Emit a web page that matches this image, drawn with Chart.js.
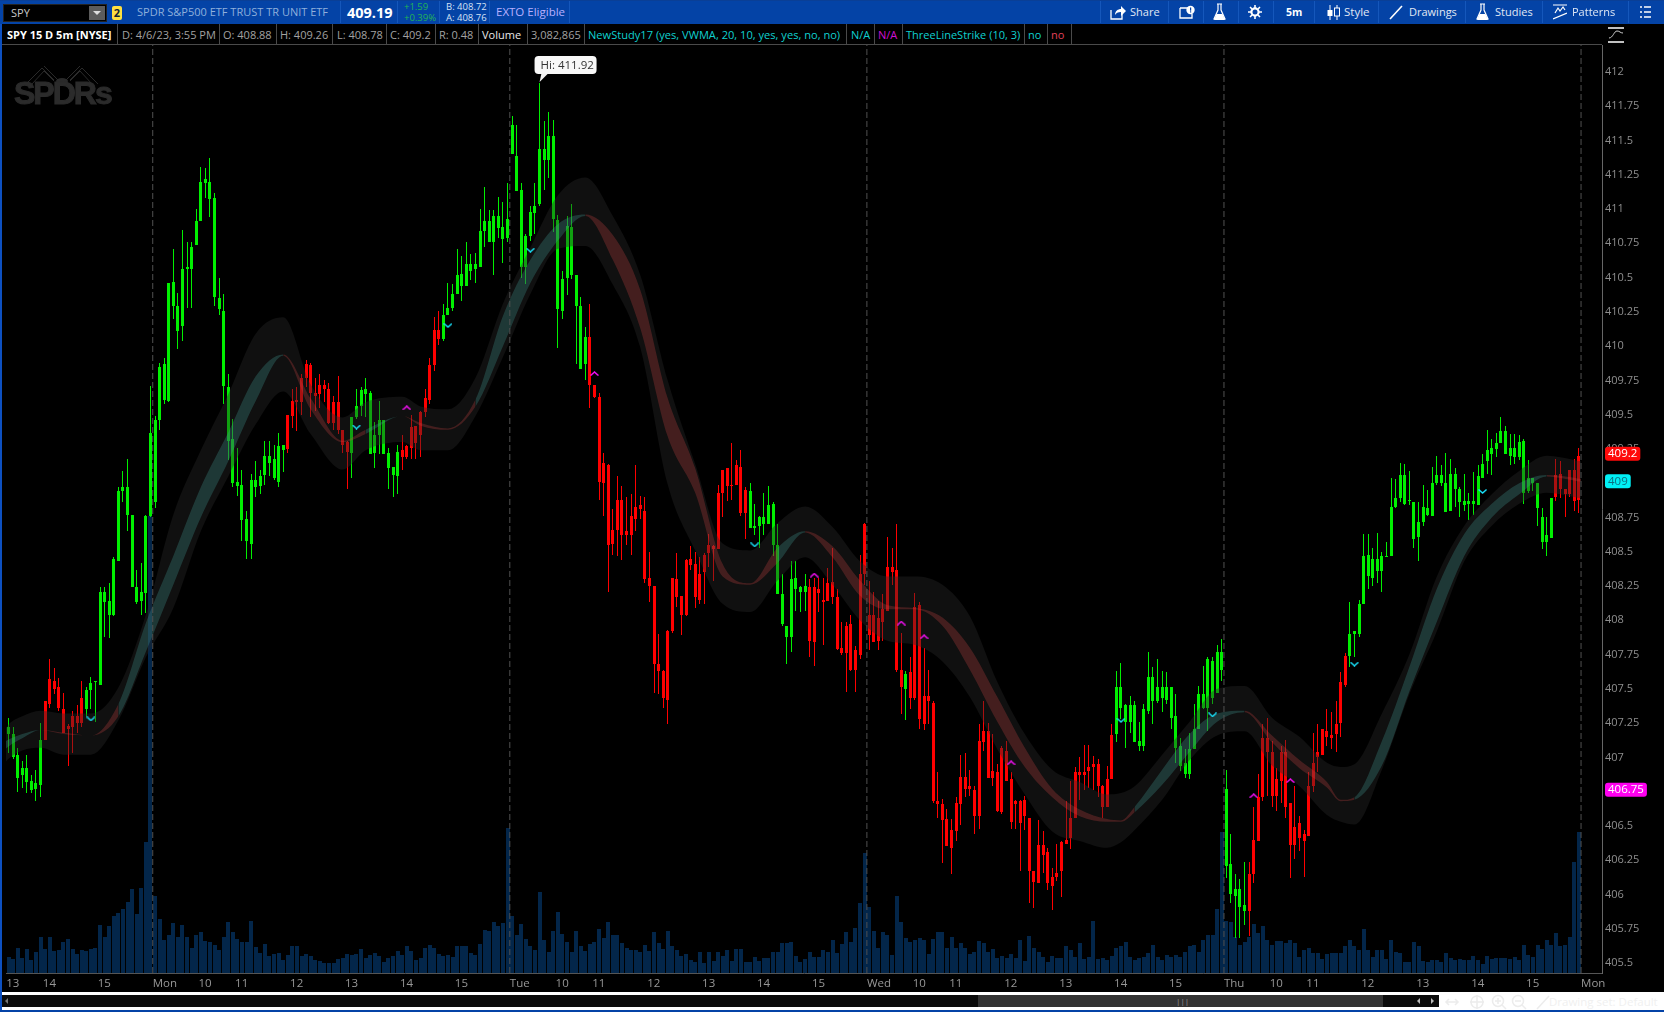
<!DOCTYPE html>
<html>
<head>
<meta charset="utf-8">
<title>SPY 15 D 5m</title>
<script src="https://cdn.jsdelivr.net/npm/chart.js@4/dist/chart.umd.min.js"></script>
<style>
html,body{margin:0;padding:0;background:#000;overflow:hidden}
body{width:1664px;height:1012px;position:relative;font-family:"Open Sans",sans-serif;font-size:11px}
canvas{position:absolute;left:0;top:0}
.abs,.t,.c,.b,.s{position:absolute;white-space:nowrap}
#topbar{position:absolute;left:0;top:0;width:1664px;height:24px;background:#0443a6;border-top:1px solid #0a3f96;box-sizing:border-box}
#row2{position:absolute;left:0;top:24px;width:1602px;height:20px;background:#000;border-bottom:1px solid #4a4a4a}
.t{top:4px;line-height:16px;color:#bcd0ee;font-size:11px}
.c{top:27px;line-height:16px;color:#a2a2a2;font-size:11px}
.b{top:24px;width:1px;height:20px;background:#4a4a4a}
.s{top:1px;width:1px;height:22px;background:#1557bb}
svg{position:absolute}
</style>
</head>
<body>
<canvas id="chart" width="1664" height="1012"></canvas>

<div id="topbar"></div>
<div id="row2"></div>
<div class="abs" style="left:0;top:24px;width:2px;height:988px;background:#0d50c0"></div>

<!-- top toolbar -->
<div class="abs" style="left:3px;top:4px;width:104px;height:18px;background:#000;border:1px solid #222;box-sizing:border-box"></div>
<div class="t" style="left:11px;top:5px;color:#c8c8c8">SPY</div>
<div class="abs" style="left:89px;top:6px;width:16px;height:14px;background:#5c5c5c"></div>
<div class="abs" style="left:93px;top:11px;border-left:4px solid transparent;border-right:4px solid transparent;border-top:4px solid #ddd"></div>
<div class="abs" style="left:112px;top:6px;width:10px;height:14px;background:#ffe040;border-radius:2px;color:#123;font-weight:700;font-size:11px;line-height:14px;text-align:center">2</div>
<div class="t" style="left:137px;top:4px;color:#8fb0dc;font-size:11px">SPDR S&amp;P500 ETF TRUST TR UNIT ETF</div>
<div class="s" style="left:340px"></div>
<div class="t" style="left:347px;top:3px;color:#fff;font-size:14.5px;font-weight:700;line-height:19px">409.19</div>
<div class="s" style="left:397px"></div>
<div class="t" style="left:404px;top:1px;color:#22b455;font-size:9.5px;line-height:11px">+1.59<br>+0.39%</div>
<div class="s" style="left:439px"></div>
<div class="t" style="left:446px;top:1px;color:#d5e2f5;font-size:9.5px;line-height:11px">B: 408.72<br>A: 408.76</div>
<div class="s" style="left:489px"></div>
<div class="t" style="left:496px;top:4px;color:#b9b0ff;font-size:11.5px">EXTO Eligible</div>
<div class="s" style="left:569px"></div>
<div class="s" style="left:1100px"></div>

<svg style="left:1110px;top:5px" width="16" height="15" viewBox="0 0 16 15"><path d="M1 5v9h11V9" fill="none" stroke="#fff" stroke-width="1.3"/><path d="M5 10c0-4 3-6 6-6V1l5 5-5 5V7c-3 0-5 1-6 3z" fill="#fff"/></svg>
<div class="t" style="left:1130px;color:#e0e8f5;font-size:11px">Share</div>
<div class="s" style="left:1168px"></div>
<svg style="left:1179px;top:5px" width="16" height="14" viewBox="0 0 16 14"><path d="M1 3h9M1 3v10h12V9" fill="none" stroke="#fff" stroke-width="1.3"/><circle cx="11.5" cy="5" r="4.2" fill="#fff"/><rect x="11" y="2.5" width="1.2" height="3.2" fill="#0443a6"/><rect x="11" y="6.3" width="1.2" height="1.2" fill="#0443a6"/></svg>
<div class="s" style="left:1203px"></div>
<svg style="left:1213px;top:3px" width="13" height="18" viewBox="0 0 13 18"><path d="M4 1h5M5 1v6L1 16h11L8 7V1" fill="none" stroke="#fff" stroke-width="1.2"/><path d="M3.5 11h6L12 17H1z" fill="#fff"/></svg>
<div class="s" style="left:1238px"></div>
<svg style="left:1248px;top:5px" width="14" height="14" viewBox="0 0 14 14"><circle cx="7" cy="7" r="3.6" fill="none" stroke="#fff" stroke-width="2.2"/><path d="M7 0v3M7 11v3M0 7h3M11 7h3M2 2l2 2M10 10l2 2M12 2l-2 2M4 10l-2 2" stroke="#fff" stroke-width="1.6"/></svg>
<div class="s" style="left:1273px"></div>
<div class="t" style="left:1286px;color:#fff;font-weight:700;font-size:10.5px">5m</div>
<div class="s" style="left:1314px"></div>
<svg style="left:1326px;top:5px" width="15" height="15" viewBox="0 0 15 15"><path d="M4 0v15M11 0v15" stroke="#fff"/><rect x="1.5" y="5" width="5" height="6" fill="#fff"/><rect x="8.5" y="3" width="5" height="8" fill="#0443a6" stroke="#fff"/></svg>
<div class="t" style="left:1344px;color:#e0e8f5;font-size:11.5px">Style</div>
<div class="s" style="left:1378px"></div>
<svg style="left:1389px;top:5px" width="14" height="15" viewBox="0 0 14 15"><path d="M1 14L13 1" stroke="#fff" stroke-width="1.6"/></svg>
<div class="t" style="left:1409px;color:#e0e8f5;font-size:11px">Drawings</div>
<div class="s" style="left:1465px"></div>
<svg style="left:1476px;top:3px" width="13" height="18" viewBox="0 0 13 18"><path d="M4 1h5M5 1v6L1 16h11L8 7V1" fill="none" stroke="#fff" stroke-width="1.2"/><path d="M3.5 11h6L12 17H1z" fill="#fff"/></svg>
<div class="t" style="left:1495px;color:#e0e8f5;font-size:11px">Studies</div>
<div class="s" style="left:1542px"></div>
<svg style="left:1553px;top:4px" width="14" height="16" viewBox="0 0 14 16"><path d="M0 1h14M0 15L14 9M2 9l3-5 2 3 3-4 2 3" fill="none" stroke="#fff" stroke-width="1.2"/></svg>
<div class="t" style="left:1572px;color:#e0e8f5;font-size:11px">Patterns</div>
<div class="s" style="left:1628px"></div>
<svg style="left:1640px;top:6px" width="11" height="12" viewBox="0 0 11 12"><path d="M0 1h2M4 1h7M0 6h2M4 6h7M0 11h2M4 11h7" stroke="#fff" stroke-width="1.4"/></svg>

<!-- study row -->
<div class="c" style="left:7px;color:#fff;font-weight:700">SPY 15 D 5m [NYSE]</div><div class="b" style="left:117px"></div>
<div class="c" style="left:122px">D: 4/6/23, 3:55 PM</div><div class="b" style="left:219px"></div>
<div class="c" style="left:223px">O: 408.88</div><div class="b" style="left:276px"></div>
<div class="c" style="left:280px">H: 409.26</div><div class="b" style="left:332px"></div>
<div class="c" style="left:337px">L: 408.78</div><div class="b" style="left:386px"></div>
<div class="c" style="left:390px">C: 409.2</div><div class="b" style="left:435px"></div>
<div class="c" style="left:439px">R: 0.48</div><div class="b" style="left:478px"></div>
<div class="c" style="left:482px;color:#e8e8e8">Volume</div><div class="b" style="left:527px"></div>
<div class="c" style="left:531px">3,082,865</div><div class="b" style="left:584px"></div>
<div class="c" style="left:588px;color:#0fd0d0;font-size:11.1px">NewStudy17 (yes, VWMA, 20, 10, yes, yes, no, no)</div><div class="b" style="left:846px"></div>
<div class="c" style="left:851px;color:#0fd0d0">N/A</div><div class="b" style="left:874px"></div>
<div class="c" style="left:878px;color:#d010d0">N/A</div><div class="b" style="left:902px"></div>
<div class="c" style="left:906px;color:#0fd0d0">ThreeLineStrike (10, 3)</div><div class="b" style="left:1024px"></div>
<div class="c" style="left:1028px;color:#0fd0d0">no</div><div class="b" style="left:1047px"></div>
<div class="c" style="left:1051px;color:#e0405a">no</div><div class="b" style="left:1071px"></div>

<svg style="left:1608px;top:27px" width="16" height="16" viewBox="0 0 16 16"><path d="M0 1h16M0 15h16" stroke="#fff" stroke-width="1.6"/><path d="M1 11c4 0 5-7 8-7s3 2 6 2" fill="none" stroke="#ccc"/></svg>

<!-- SPDRs watermark -->
<svg style="left:20px;top:62px" width="84" height="24" viewBox="0 0 84 24"><path d="M6 22L22 6l12 12M12 22L24 9l10 10M78 22L62 6 50 18M72 22L60 9 50 19M24 4l14 14M60 4L46 18" fill="none" stroke="#2a2a2a" stroke-width="1"/><ellipse cx="42" cy="19" rx="6" ry="3" fill="#2a2a2a"/></svg>
<div class="abs" style="left:14px;top:77px;font-family:'Liberation Sans',sans-serif;font-weight:700;font-size:32px;line-height:32px;letter-spacing:-2px;color:#2b2b2b;-webkit-text-stroke:1px #2b2b2b">SPDRs</div>

<!-- bottom scroller -->
<div class="abs" style="left:2px;top:992px;width:1662px;height:19px;background:#fff"></div>
<div class="abs" style="left:2px;top:995px;width:1437px;height:12px;background:#0b0b0b"></div>
<div class="abs" style="left:978px;top:995px;width:405px;height:12px;background:#333"></div>
<div class="abs" style="left:1176px;top:996px;color:#999;font-size:8px;line-height:10px">|||</div>
<div class="abs" style="left:5px;top:998px;border-top:3px solid transparent;border-bottom:3px solid transparent;border-right:3px solid #777"></div>
<div class="abs" style="left:1417px;top:998px;border-top:3px solid transparent;border-bottom:3px solid transparent;border-right:3px solid #bbb"></div>
<div class="abs" style="left:1431px;top:998px;border-top:3px solid transparent;border-bottom:3px solid transparent;border-left:3px solid #bbb"></div>
<svg style="left:1444px;top:994px" width="110" height="16" viewBox="0 0 110 16"><g fill="none" stroke="#ececec" stroke-width="1.5"><path d="M2 8h12M5 5l-3 3 3 3M11 5l3 3-3 3"/><circle cx="33" cy="8" r="6"/><path d="M33 1v14M26 8h14"/><circle cx="54" cy="7" r="5.5"/><path d="M58 11l4 4M51 7h6M54 4v6"/><circle cx="74" cy="7" r="5.5"/><path d="M78 11l4 4M71 7h6"/><path d="M93 15L105 2"/></g></svg>
<div class="abs" style="left:1549px;top:994px;color:#f0f0f0;font-size:11.5px;line-height:16px">Drawing set: Default</div>
<div class="abs" style="left:0;top:1010px;width:1664px;height:2px;background:#0443a6"></div>

<script>
// candles, one entry per 5 minute bar
const highs = [
  407.29,407.22,407.07,406.97,407.02,406.87,406.91,407.25,407.41,407.72,
  407.65,407.58,407.47,407.24,407.34,407.38,407.56,407.51,407.59,407.56,
  408.24,408.24,408.27,408.46,408.97,409.09,409.18,408.77,408.37,408.42,
  408.77,409.71,409.49,409.88,409.91,410.46,410.71,410.39,410.85,410.76,
  410.76,411.00,411.31,411.30,411.37,411.12,410.50,410.38,409.80,409.47,
  409.26,409.10,408.80,409.07,409.16,409.10,409.31,409.31,409.28,409.37,
  409.28,409.50,409.69,409.70,409.80,409.90,409.88,409.77,409.80,409.75,
  409.73,409.64,409.78,409.39,409.31,409.48,409.69,409.70,409.77,409.67,
  409.45,409.60,409.46,409.26,409.12,409.28,409.35,409.28,409.50,409.42,
  409.53,409.69,409.91,410.21,410.26,410.31,410.46,410.45,410.71,410.66,
  410.76,410.67,410.68,411.00,411.16,410.99,410.99,411.09,411.05,411.19,
  411.68,411.61,411.19,410.82,411.02,411.19,411.92,411.64,411.71,411.65,
  410.96,410.55,410.95,411.04,410.52,410.36,410.14,410.31,409.72,409.66,
  409.22,409.14,408.81,409.05,408.98,408.90,408.92,409.13,408.91,408.90,
  408.50,408.25,407.90,407.64,407.93,408.31,408.49,408.18,408.45,408.54,
  408.50,408.46,408.49,408.63,408.55,408.99,409.10,409.11,409.29,409.17,
  409.24,408.97,409.00,408.85,408.76,408.93,408.98,408.86,408.70,408.34,
  407.96,408.43,408.43,408.25,408.34,408.30,408.31,408.31,408.31,408.38,
  408.53,408.23,407.99,407.99,408.04,407.81,408.48,408.71,408.29,408.21,
  408.14,408.19,408.61,408.53,408.70,407.91,407.63,407.73,408.20,408.13,
  407.80,407.64,407.41,406.89,406.70,406.62,406.55,406.71,407.02,407.03,
  406.91,406.79,407.24,407.41,407.25,407.17,406.95,407.08,407.12,406.89,
  406.69,406.69,406.72,406.56,406.17,406.54,406.46,406.34,406.19,406.37,
  406.39,406.68,406.83,406.93,407.00,407.09,407.09,407.01,406.99,406.80,
  406.94,407.24,407.63,407.69,407.39,407.45,407.41,407.26,407.39,407.77,
  407.66,407.72,407.63,407.62,407.51,407.46,407.14,407.06,407.18,407.39,
  407.52,407.67,407.73,407.73,407.82,407.86,406.91,406.44,406.15,406.11,
  406.24,406.24,406.64,406.88,407.24,407.29,407.12,406.92,407.08,407.13,
  406.67,406.79,406.57,406.47,406.89,407.18,407.24,407.21,407.35,407.33,
  407.41,407.62,407.76,408.13,407.92,408.15,408.63,408.63,408.53,408.64,
  408.50,408.57,409.04,409.03,409.15,409.14,409.09,408.86,408.86,408.99,
  408.95,409.12,409.20,409.13,409.22,409.18,409.11,408.97,409.07,408.93,
  409.08,409.13,409.21,409.39,409.32,409.37,409.48,409.42,409.36,409.36,
  409.35,409.32,409.17,409.04,409.00,408.82,408.75,408.89,409.18,409.16,
  408.96,409.10,409.18,409.26
];
const lows = [
  407.03,406.99,406.75,406.78,406.74,406.74,406.68,406.71,407.13,407.36,
  407.46,407.34,407.18,406.94,407.03,407.18,407.22,407.30,407.35,407.26,
  407.53,407.88,407.87,408.03,408.43,408.86,408.65,408.24,408.12,408.04,
  408.05,408.75,408.82,409.39,409.58,409.59,410.20,409.98,410.04,410.28,
  410.28,410.74,410.91,411.08,410.94,410.29,410.23,409.58,409.17,408.97,
  408.91,408.58,408.45,408.45,408.90,408.92,408.99,409.05,409.02,408.97,
  409.08,409.22,409.40,409.38,409.50,409.70,409.48,409.53,409.55,409.59,
  409.43,409.39,409.36,409.22,408.96,409.04,409.47,409.49,409.48,409.21,
  409.11,409.21,409.21,408.96,408.90,408.92,409.10,409.18,409.18,409.18,
  409.19,409.48,409.58,409.82,410.01,410.04,410.23,410.26,410.38,410.33,
  410.44,410.48,410.46,410.58,410.72,410.76,410.52,410.79,410.61,410.76,
  411.40,411.13,410.50,410.45,410.77,410.82,411.02,411.14,411.23,410.83,
  409.99,410.20,410.37,410.49,409.87,409.83,409.75,409.55,409.62,408.88,
  408.76,408.21,408.48,408.47,408.44,408.55,408.48,408.65,408.74,408.27,
  408.13,407.47,407.46,407.36,407.24,407.91,408.10,407.89,408.03,408.37,
  408.09,408.12,408.12,408.39,408.29,408.52,408.75,408.87,408.88,408.99,
  408.76,408.59,408.67,408.62,408.53,408.62,408.70,408.47,408.19,407.96,
  407.68,407.77,408.07,408.06,408.07,407.73,407.67,408.06,407.82,408.14,
  408.12,407.78,407.75,407.48,407.63,407.48,407.72,408.26,407.78,407.84,
  407.78,407.85,408.07,408.26,407.62,407.32,407.27,407.35,407.42,407.21,
  407.20,407.24,406.67,406.56,406.23,406.35,406.15,406.39,406.51,406.71,
  406.72,406.44,406.48,407.05,406.85,406.79,406.60,406.59,406.83,406.48,
  406.48,406.17,406.47,405.94,405.90,406.08,406.16,406.03,405.89,406.10,
  405.98,406.37,406.33,406.56,406.69,406.76,406.78,406.76,406.71,406.56,
  406.64,406.84,407.11,407.28,407.07,407.18,407.11,407.05,407.05,407.32,
  407.24,407.40,407.33,407.39,407.21,406.96,406.90,406.85,406.84,407.06,
  407.21,407.35,407.19,407.39,407.47,407.56,406.12,405.94,405.68,405.68,
  405.78,405.70,406.08,406.39,406.68,406.72,406.64,406.61,406.67,406.56,
  406.12,406.26,406.32,406.13,406.43,406.75,406.89,407.02,407.08,407.06,
  407.04,407.15,407.51,407.66,407.73,407.88,408.13,408.23,408.25,408.27,
  408.21,408.46,408.47,408.82,408.86,408.84,408.84,408.53,408.43,408.69,
  408.76,408.76,408.99,408.98,408.79,408.80,408.83,408.75,408.80,408.73,
  408.77,408.84,409.04,409.07,409.06,409.19,409.29,409.21,409.13,409.14,
  409.17,408.85,408.93,408.94,408.69,408.52,408.47,408.60,408.87,408.89,
  408.75,408.90,408.80,408.78
];
const bodyTops = [
  407.22,407.17,407.02,406.92,406.92,406.83,406.81,407.13,407.41,407.57,
  407.56,407.51,407.35,407.23,407.30,407.30,407.43,407.49,407.54,407.56,
  408.21,408.21,408.14,408.45,408.94,408.97,408.97,408.77,408.24,408.21,
  408.76,409.37,409.46,409.85,409.87,410.46,410.47,410.29,410.56,410.58,
  410.72,410.91,411.20,411.22,411.20,411.08,410.35,410.26,409.70,409.32,
  409.01,408.99,408.74,409.02,409.02,409.05,409.20,409.20,409.18,409.27,
  409.28,409.50,409.60,409.61,409.77,409.87,409.86,409.66,409.72,409.72,
  409.69,409.59,409.59,409.39,409.30,409.48,409.56,409.68,409.69,409.66,
  409.35,409.46,409.46,409.22,409.12,409.23,409.24,409.27,409.41,409.42,
  409.52,409.62,409.86,410.12,410.12,410.23,410.28,410.38,410.52,410.53,
  410.60,410.60,410.60,410.84,410.91,410.91,410.95,410.95,410.87,410.93,
  411.61,411.39,411.14,410.80,410.98,411.02,411.44,411.44,411.53,411.53,
  410.92,410.49,410.88,410.87,410.52,410.29,410.07,410.07,409.72,409.63,
  409.15,409.13,408.66,408.88,408.88,408.65,408.76,408.83,408.84,408.80,
  408.31,408.25,407.68,407.63,407.92,408.31,408.30,408.18,408.44,408.45,
  408.41,408.34,408.48,408.55,408.54,408.93,409.10,409.11,408.99,409.13,
  409.12,408.95,408.94,408.69,408.75,408.75,408.84,408.85,408.55,408.19,
  407.96,408.30,408.31,408.24,408.25,408.24,408.24,408.23,408.15,408.27,
  408.28,408.17,407.80,407.96,407.97,407.78,408.34,408.70,408.04,408.04,
  408.02,408.08,408.39,408.39,408.37,407.64,407.61,407.62,408.10,408.11,
  407.45,407.45,407.40,406.68,406.66,406.55,406.47,406.67,406.86,406.86,
  406.79,406.76,407.12,407.19,407.19,406.90,406.89,407.07,407.05,406.84,
  406.68,406.68,406.69,406.56,406.17,406.36,406.36,406.31,406.13,406.16,
  406.38,406.40,406.56,406.89,406.89,406.89,406.93,406.95,406.95,406.79,
  406.84,407.16,407.51,407.51,407.38,407.38,407.38,407.12,407.35,407.59,
  407.59,407.51,407.51,407.51,407.51,407.30,407.08,406.96,407.06,407.21,
  407.46,407.46,407.72,407.70,407.77,407.77,406.77,406.22,406.04,406.04,
  405.92,406.15,406.40,406.71,407.14,407.14,407.04,406.84,407.04,407.04,
  406.67,406.49,406.52,406.44,406.79,406.96,407.04,407.21,407.19,407.16,
  407.24,407.55,407.74,407.90,407.92,408.12,408.47,408.48,408.45,408.45,
  408.47,408.47,408.83,408.89,409.06,409.06,408.88,408.86,408.72,408.83,
  408.82,409.00,409.06,409.06,409.00,409.07,409.07,408.96,408.87,408.87,
  408.87,409.05,409.14,409.24,409.26,409.29,409.38,409.38,409.26,409.26,
  409.30,409.31,409.04,409.04,409.00,408.75,408.62,408.89,409.06,409.07,
  408.96,409.10,409.10,409.20
];
const bodyBottoms = [
  407.17,407.00,406.85,406.87,406.82,406.76,406.77,406.80,407.13,407.39,
  407.50,407.36,407.18,407.21,407.22,407.25,407.25,407.35,407.49,407.55,
  407.53,408.13,408.04,408.04,408.43,408.94,408.77,408.24,408.13,408.14,
  408.20,408.76,408.86,409.46,409.61,409.60,410.29,410.11,410.15,410.56,
  410.56,410.74,410.91,411.19,411.07,410.36,410.27,409.71,409.31,409.00,
  408.98,408.73,408.58,408.56,408.97,408.98,409.06,409.15,409.04,409.01,
  409.24,409.25,409.49,409.59,409.59,409.77,409.66,409.64,409.65,409.69,
  409.44,409.44,409.39,409.28,409.23,409.22,409.48,409.56,409.65,409.21,
  409.22,409.35,409.21,409.11,409.06,409.05,409.19,409.19,409.26,409.29,
  409.35,409.52,409.61,409.86,410.05,410.05,410.23,410.28,410.38,410.44,
  410.44,410.55,410.56,410.58,410.84,410.76,410.76,410.86,410.78,410.79,
  411.40,411.13,410.58,410.58,410.80,410.97,411.04,411.36,411.36,410.93,
  410.27,410.26,410.50,410.52,410.29,409.83,409.87,409.72,409.63,409.01,
  409.00,408.55,408.56,408.66,408.62,408.62,408.62,408.74,408.81,408.30,
  408.25,407.68,407.63,407.43,407.42,407.92,408.17,408.04,408.04,408.40,
  408.17,408.15,408.35,408.49,408.52,408.52,408.93,408.98,408.98,408.99,
  408.78,408.78,408.67,408.67,408.69,408.70,408.70,408.55,408.19,407.97,
  407.88,407.88,408.23,408.21,408.21,407.85,407.84,408.20,408.13,408.14,
  408.17,407.79,407.76,407.76,407.64,407.64,407.75,408.34,407.89,407.84,
  407.85,407.99,408.07,408.35,407.64,407.51,407.50,407.43,407.43,407.28,
  407.24,407.41,406.68,406.66,406.54,406.35,406.34,406.46,406.66,406.77,
  406.77,406.57,406.57,407.11,406.85,406.85,406.61,406.60,406.83,406.53,
  406.66,406.52,406.57,406.17,406.09,406.08,406.29,406.08,406.06,406.13,
  406.17,406.37,406.41,406.56,406.87,406.87,406.90,406.93,406.79,406.64,
  406.64,406.84,407.17,407.36,407.26,407.26,407.11,407.08,407.08,407.34,
  407.41,407.41,407.43,407.42,407.29,407.07,406.94,406.88,406.88,407.06,
  407.21,407.36,407.36,407.43,407.47,407.64,406.21,406.00,405.99,405.91,
  405.88,405.88,406.15,406.39,406.71,407.04,406.72,406.72,406.83,406.64,
  406.36,406.36,406.41,406.39,406.43,406.79,407.00,407.02,407.15,407.14,
  407.17,407.25,407.53,407.74,407.90,407.90,408.12,408.32,408.31,408.36,
  408.36,408.46,408.47,408.83,408.89,408.85,408.87,408.59,408.61,408.72,
  408.77,408.76,409.00,409.00,408.79,408.80,408.96,408.86,408.84,408.85,
  408.85,408.84,409.04,409.16,409.21,409.25,409.29,409.21,409.20,409.19,
  409.19,408.93,408.94,409.00,408.82,408.57,408.57,408.60,408.90,408.96,
  408.92,408.92,408.87,408.88
];
// volume in thousands of shares
const volumes = [
  350,307,555,336,526,277,467,788,533,788,
  489,511,686,752,533,423,511,489,533,555,
  1059,781,1037,1256,1314,1409,1562,1847,1299,1869,
  2876,10000,1694,1190,730,840,1095,781,1059,788,
  555,840,905,701,679,621,511,796,1117,905,
  752,686,686,1146,577,445,642,380,423,445,
  292,402,599,599,380,423,380,292,270,226,
  226,226,314,336,423,402,423,533,336,402,
  445,380,248,336,380,489,402,599,489,292,
  336,555,621,555,423,380,402,358,599,599,
  599,445,402,642,949,927,1124,1037,1102,3176,
  1256,840,1080,752,599,511,1781,730,467,927,
  1343,861,679,453,927,584,489,642,679,971,
  774,1124,825,840,664,548,511,511,467,621,
  489,898,664,533,927,584,511,380,423,285,
  248,460,226,467,263,467,380,511,263,533,
  533,248,248,358,263,336,336,467,467,657,
  657,686,380,248,307,453,350,350,496,467,
  730,438,642,898,686,986,1533,2628,1445,927,
  548,898,825,402,1694,1124,774,679,730,759,
  730,423,752,905,905,548,788,548,657,548,
  423,467,708,657,460,533,329,380,321,423,
  329,730,263,818,548,453,350,248,380,329,
  336,599,511,350,657,307,350,1139,307,336,
  292,380,540,599,684,359,274,325,359,428,
  624,359,274,402,342,402,342,453,599,616,
  453,727,829,829,1394,3078,1129,1112,787,616,
  684,787,1069,881,1026,727,616,710,701,658,
  727,667,342,513,539,445,428,316,410,445,
  428,428,599,727,599,513,958,513,359,513,
  496,299,727,470,445,239,239,684,599,257,
  231,282,282,231,428,325,282,299,282,274,
  368,282,197,368,316,325,325,325,308,359,
  282,624,385,342,624,530,718,624,872,581,
  624,787,2428,3083
];
// bar ranges painted red by the study, the rest are green
const redBars = [[8,16],[61,74],[86,94],[127,161],[175,195],[197,241],[271,292],[338,343]];

// the study's cloud, read at these bar numbers
const bandBars = [-1,0,3,7,12,18,24,30,36,42,48,54,60,66,73,78,86,90,96,102,108,114,120,126,132,138,144,150,156,162,168,174,180,186,192,198,204,210,216,222,228,234,240,243,246,252,258,264,270,276,282,288,291,294,300,306,312,318,324,330,336,342,343.5];
const outerUpper = [407.19,407.24,407.30,407.34,407.32,407.32,407.51,408.04,408.77,409.24,409.65,410.09,410.21,409.72,409.48,409.59,409.63,409.56,409.54,409.77,410.31,410.72,411.10,411.23,410.95,410.52,409.75,409.14,408.56,408.51,408.71,408.83,408.68,408.43,408.32,408.32,408.26,408.03,407.55,407.17,406.91,406.82,406.73,406.74,406.79,407.02,407.26,407.50,407.52,407.29,407.15,406.96,406.93,406.95,407.32,407.75,408.32,408.69,408.92,409.09,409.20,409.17,409.16];
const outerLower = [406.95,406.99,407.05,407.07,407.02,407.02,407.27,407.73,408.09,408.65,409.05,409.43,409.67,409.36,409.10,409.24,409.30,409.24,409.24,409.49,409.92,410.38,410.71,410.73,410.45,409.99,408.99,408.51,408.12,408.06,408.29,408.46,408.26,408.00,407.85,407.82,407.70,407.44,407.06,406.73,406.46,406.39,406.34,406.38,406.47,406.69,406.98,407.16,407.19,406.94,406.79,406.58,406.53,406.51,406.91,407.46,407.92,408.43,408.69,408.85,408.93,408.90,408.89];
const innerUpper = [407.11,407.13,407.17,407.20,407.18,407.16,407.39,407.98,408.47,408.97,409.37,409.78,409.94,409.62,409.31,409.39,409.49,409.44,409.40,409.61,410.22,410.63,410.89,410.96,410.81,410.41,409.62,409.11,408.41,408.27,408.53,408.65,408.54,408.29,408.11,408.09,408.02,407.80,407.44,407.07,406.77,406.62,406.55,406.54,406.64,406.91,407.17,407.32,407.34,407.16,406.98,406.82,406.69,406.71,407.12,407.66,408.23,408.63,408.85,409.00,409.06,409.04,409.03];
const innerLower = [407.05,407.08,407.14,407.20,407.17,407.16,407.30,407.77,408.26,408.75,409.16,409.60,409.93,409.54,409.30,409.36,409.49,409.42,409.39,409.56,410.00,410.46,410.77,410.95,410.63,410.13,409.34,408.93,408.32,408.26,408.42,408.64,408.46,408.18,408.08,408.08,407.96,407.64,407.26,406.93,406.71,406.57,406.53,406.53,406.60,406.80,407.04,407.26,407.33,407.11,406.92,406.78,406.68,406.69,406.94,407.48,407.99,408.47,408.75,408.92,409.05,409.02,409.01];
const bandRedRuns = [[7,18],[60,73],[86,96],[126,162],[174,243],[270,291],[336,344]];

// signal chevrons
const downBars = [18,76,96,114,163,243,263,294,322];
const downPrices = [407.28,409.41,410.15,410.70,408.55,407.27,407.31,407.68,408.94];
const upBars = [87,128,176,195,200,219,272,280];
const upPrices = [409.55,409.80,408.33,407.98,407.88,406.96,406.72,406.83];

// axes
const priceTicks = [412,411.75,411.5,411.25,411,410.75,410.5,410.25,410,409.75,409.5,409.25,409,408.75,408.5,408.25,408,407.75,407.5,407.25,407,406.75,406.5,406.25,406,405.75,405.5];
const timeTickBars = [-0.5,7.5,19.5,31.5,41.5,49.5,61.5,73.5,85.5,97.5,109.5,119.5,127.5,139.5,151.5,163.5,175.5,187.5,197.5,205.5,217.5,229.5,241.5,253.5,265.5,275.5,283.5,295.5,307.5,319.5,331.5,343.5];
const timeTickLabels = ['13','14','15','Mon','10','11','12','13','14','15','Tue','10','11','12','13','14','15','Wed','10','11','12','13','14','15','Thu','10','11','12','13','14','15','Mon'];
const sessionBreaks = [31.5,109.5,187.5,265.5,343.5];

// labels on the price axis
const badgePrices = [409.2,409,406.75];
const badgeTexts = ['409.2','409','406.75'];
const badgeColors = ['#ff0a0a','#00f0f5','#ff00f0'];
const badgeTextColors = ['#fff','#0b6f80','#fff'];

const PRICE_MIN = 405.427, PRICE_MAX = 412.197;
const GREEN = '#00f000', RED = '#ff0000';

const inRuns = (runs, i) => runs.some(r => i >= r[0] && i <= r[1]);
const barColors = highs.map((_, i) => inRuns(redBars, i) ? RED : GREEN);
const pts = (xs, ys) => xs.map((x, i) => ({x: x, y: ys[i]}));

function chevron(color, up) {
  const c = document.createElement('canvas');
  c.width = 9; c.height = 5;
  const g = c.getContext('2d');
  g.strokeStyle = color;
  g.lineWidth = 1.4;
  g.beginPath();
  if (up) { g.moveTo(.5, 4.5); g.lineTo(4.5, 1); g.lineTo(8.5, 4.5); }
  else { g.moveTo(.5, .5); g.lineTo(4.5, 4); g.lineTo(8.5, .5); }
  g.stroke();
  return c;
}

const band = (data, fill, extra) => Object.assign({
  type: 'line', data: data, borderWidth: 0, borderColor: 'transparent', pointRadius: 0,
  cubicInterpolationMode: 'monotone', fill: fill, clip: false
}, extra);

const bars = (data, thickness, color, order, yAxisID) => ({
  type: 'bar', data: data, barThickness: thickness, backgroundColor: color, order: order,
  grouped: false, borderWidth: 0, inflateAmount: 0, yAxisID: yAxisID || 'y'
});

// keep bars on whole pixels, the way the platform paints them
const snapBars = {
  id: 'snapBars',
  afterDatasetsUpdate(chart) {
    chart.data.datasets.forEach((ds, k) => {
      if (ds.type !== 'bar') return;
      chart.getDatasetMeta(k).data.forEach(b => {
        b.x = ds.barThickness % 2 ? Math.floor(b.x) + .5 : Math.round(b.x);
        b.y = Math.round(b.y);
        b.base = Math.round(b.base);
        if (b.y === b.base) b.base = b.y + 1;
      });
    });
  }
};

function roundBox(ctx, x, y, w, h, r, fill) {
  ctx.fillStyle = fill;
  ctx.beginPath();
  ctx.roundRect(x, y, w, h, r);
  ctx.fill();
}

// price badges and the session high bubble
const callouts = {
  id: 'callouts',
  afterDraw(chart) {
    const ctx = chart.ctx, y = chart.scales.y, x = chart.scales.x;
    ctx.save();
    ctx.font = '11.5px "Open Sans"';
    ctx.textBaseline = 'middle';
    badgePrices.forEach((p, i) => {
      const py = y.getPixelForValue(p) - 2;
      const w = ctx.measureText(badgeTexts[i]).width + 6;
      roundBox(ctx, 1605, py - 7, w, 14, 3, badgeColors[i]);
      ctx.fillStyle = badgeTextColors[i];
      ctx.fillText(badgeTexts[i], 1608, py);
    });
    const hiBar = highs.indexOf(Math.max(...highs));
    const hx = x.getPixelForValue(hiBar), hy = y.getPixelForValue(highs[hiBar]);
    ctx.fillStyle = '#f4f4f4';
    ctx.beginPath();
    ctx.moveTo(hx, hy - 1);
    ctx.lineTo(hx + 2, hy - 10);
    ctx.lineTo(hx + 9, hy - 10);
    ctx.fill();
    roundBox(ctx, hx - 5, hy - 27, 62, 18, 4, '#f8f8f8');
    ctx.fillStyle = '#333';
    ctx.font = '11.5px "Open Sans"';
    ctx.fillText('Hi: ' + highs[hiBar], hx + 1, hy - 17.5);
    ctx.restore();
  }
};

const datasets = [
  bars(pts(highs.map((_, i) => i), volumes), 4, '#03264a', 20, 'yVol'),
  bars(pts(highs.map((_, i) => i), highs.map((h, i) => [lows[i], h])), 1, barColors, 10),
  bars(pts(highs.map((_, i) => i), bodyTops.map((t, i) => [bodyBottoms[i], t])), 3, barColors, 9),
  band(pts(bandBars, outerUpper), '+1', {backgroundColor: 'rgba(40,40,40,.4)', order: 5}),
  band(pts(bandBars, outerLower), false, {order: 5}),
  band(pts(bandBars, innerUpper), '+1', {
    backgroundColor: 'rgba(70,165,160,.27)', order: 4,
    segment: {backgroundColor: c => inRuns(bandRedRuns, bandBars[c.p0DataIndex]) ? 'rgba(212,69,69,.27)' : undefined}
  }),
  band(pts(bandBars, innerLower), false, {order: 4}),
  {type: 'scatter', data: pts(downBars, downPrices), pointStyle: chevron('#19e6ff', false), pointRadius: 5, order: 2},
  {type: 'scatter', data: pts(upBars, upPrices), pointStyle: chevron('#ff10ff', true), pointRadius: 5, order: 2}
];
sessionBreaks.forEach(b => {
  datasets.push({
    type: 'line', data: [{x: b, y: PRICE_MIN}, {x: b, y: PRICE_MAX}], borderColor: '#515151',
    borderWidth: 1, borderDash: [6, 3], pointRadius: 0, fill: false, order: 1
  });
});

new Chart(document.getElementById('chart'), {
  type: 'bar',
  data: {datasets: datasets},
  plugins: [snapBars, callouts],
  options: {
    responsive: false,
    animation: false,
    devicePixelRatio: 1,
    layout: {padding: {left: 0, top: 45, right: 0, bottom: 0}},
    plugins: {legend: {display: false}, tooltip: {enabled: false}},
    events: [],
    scales: {
      x: {
        type: 'linear', min: -0.55, max: 348.08, offset: false,
        grid: {display: false, offset: false, drawTicks: false},
        border: {color: '#555'},
        afterBuildTicks: s => { s.ticks = timeTickBars.map(v => ({value: v})); },
        afterFit: s => { s.height = 39; s.paddingLeft = 0; s.paddingRight = 0; },
        ticks: {
          align: 'start', autoSkip: false, maxRotation: 0, minRotation: 0, padding: 4,
          color: '#979797', font: {family: '"Open Sans"', size: 11.5},
          callback: (v, i) => timeTickLabels[i]
        }
      },
      y: {
        position: 'right', min: PRICE_MIN, max: PRICE_MAX,
        grid: {display: false, drawTicks: false},
        border: {color: '#666'},
        afterBuildTicks: s => { s.ticks = priceTicks.map(v => ({value: v})); },
        afterFit: s => { s.width = 62; },
        ticks: {
          autoSkip: false, padding: 3, color: '#8e8e8e',
          font: {family: '"Open Sans"', size: 11},
          callback: v => String(v)
        }
      },
      yVol: {display: false, min: 0, max: 20323}
    }
  }
});
</script>
</body>
</html>
